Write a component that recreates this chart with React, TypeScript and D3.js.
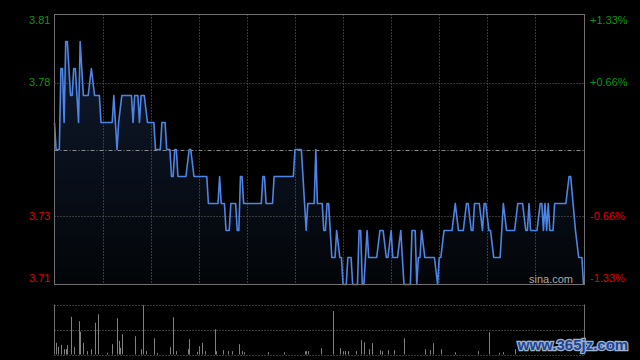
import * as d3 from "d3";

// previous close and the percent levels used for the grid
const prevClose = 3.76;
const pctLevels = [1.33, 0.66, 0, -0.66, -1.33];
const leftLabels = ["3.81", "3.78", "", "3.73", "3.71"];
const rightLabels = ["+1.33%", "+0.66%", "", "-0.66%", "-1.33%"];

// minute (from open) and price at each turn of the intraday line
const minutes = [
  0, 1, 3, 4, 5, 6, 7, 8, 10, 11, 12, 13, 15, 16, 18, 21, 23, 25, 28, 29,
  36, 37, 39, 40, 42, 48, 49, 50, 52, 53, 54, 56, 58, 62, 63, 66, 67, 69, 70, 72,
  73, 74, 75, 76, 77, 82, 84, 85, 87, 95, 96, 102, 103, 104, 106, 107, 109, 110, 113, 114,
  115, 116, 117, 118, 129, 130, 131, 132, 136, 137, 149, 150, 154, 157, 158, 162, 163, 164, 167, 168,
  169, 170, 171, 173, 175, 176, 178, 179, 180, 182, 183, 185, 186, 189, 190, 191, 192, 193, 195, 196,
  201, 203, 205, 207, 208, 210, 211, 214, 216, 218, 222, 223, 225, 226, 227, 228, 229, 231, 237, 239,
  240, 241, 243, 248, 250, 252, 255, 257, 258, 260, 261, 262, 265, 267, 268, 269, 271, 272, 274, 278,
  280, 282, 287, 289, 292, 294, 295, 296, 297, 301, 303, 304, 305, 306, 307, 308, 309, 311, 312, 319,
  321, 322, 325, 327, 329, 330,
];
const prices = [
  3.77, 3.76, 3.76, 3.79, 3.79, 3.77, 3.8, 3.8, 3.78, 3.78, 3.79, 3.79, 3.77, 3.8, 3.78, 3.78, 3.79, 3.78, 3.78, 3.77,
  3.77, 3.78, 3.76, 3.77, 3.78, 3.78, 3.77, 3.78, 3.78, 3.77, 3.78, 3.78, 3.77, 3.77, 3.76, 3.76, 3.77, 3.77, 3.76, 3.76,
  3.75, 3.75, 3.76, 3.76, 3.75, 3.75, 3.76, 3.76, 3.75, 3.75, 3.74, 3.74, 3.75, 3.74, 3.74, 3.73, 3.73, 3.74, 3.74, 3.73,
  3.73, 3.75, 3.75, 3.74, 3.74, 3.75, 3.75, 3.74, 3.74, 3.75, 3.75, 3.76, 3.76, 3.73, 3.74, 3.74, 3.76, 3.74, 3.74, 3.73,
  3.73, 3.74, 3.74, 3.72, 3.72, 3.73, 3.72, 3.72, 3.71, 3.71, 3.72, 3.72, 3.71, 3.71, 3.73, 3.73, 3.71, 3.71, 3.73, 3.72,
  3.72, 3.73, 3.73, 3.72, 3.72, 3.73, 3.72, 3.72, 3.73, 3.71, 3.71, 3.73, 3.73, 3.71, 3.72, 3.72, 3.73, 3.72, 3.72, 3.71,
  3.72, 3.72, 3.73, 3.73, 3.74, 3.73, 3.73, 3.74, 3.74, 3.73, 3.73, 3.74, 3.74, 3.73, 3.74, 3.74, 3.73, 3.73, 3.72, 3.72,
  3.74, 3.73, 3.73, 3.74, 3.74, 3.73, 3.73, 3.74, 3.73, 3.73, 3.74, 3.74, 3.73, 3.74, 3.73, 3.74, 3.73, 3.73, 3.74, 3.74,
  3.75, 3.75, 3.73, 3.72, 3.72, 3.71,
];

// volume bars (minute, thousand shares)
const volMinutes = [
  1, 2, 4, 6, 7, 8, 10, 12, 15, 16, 18, 20, 23, 25, 27, 33, 36, 39, 40, 41,
  42, 50, 54, 55, 57, 62, 64, 72, 74, 76, 83, 84, 89, 90, 92, 94, 100, 101, 105, 108,
  111, 115, 117, 118, 133, 143, 156, 157, 158, 166, 174, 178, 180, 181, 183, 188, 191, 193, 196, 198,
  203, 204, 208, 212, 218, 231, 234, 236, 241, 250, 264, 271, 277, 280, 287,
];
const volumes = [
  117, 77, 97, 53, 53, 93, 377, 73, 333, 227, 117, 33, 53, 317, 403, 17, 103, 363, 137, 67,
  203, 183, 53, 493, 33, 163, 17, 73, 373, 33, 53, 153, 27, 83, 117, 33, 253, 33, 43, 33,
  33, 103, 33, 23, 23, 23, 33, 33, 33, 63, 433, 63, 33, 33, 33, 33, 143, 123, 53, 113,
  43, 33, 43, 43, 163, 53, 43, 113, 53, 23, 33, 223, 17, 23, 53,
];

const W = 640;
const H = 360;
const left = 54.5;
const right = 584.5;
const top = 14.5;
const bottom = 284.5;
const vTop = 304.5;
const vBottom = 354.5;

const font = "'Liberation Sans', Arial, sans-serif";

export default function App() {
  const x = d3.scaleLinear().domain([0, 330]).range([left, right - 1]);
  const y = d3
    .scaleLinear()
    .domain([prevClose * (1 - 0.0133), prevClose * (1 + 0.0133)])
    .range([bottom, top]);
  const yv = d3.scaleLinear().domain([0, 500]).range([vBottom, vTop]);

  const pts = minutes.map((m, i) => [m, prices[i]] as [number, number]);
  const line = d3
    .line<[number, number]>()
    .x((d) => x(d[0]))
    .y((d) => y(d[1]));
  const area = d3
    .area<[number, number]>()
    .x((d) => x(d[0]))
    .y0(bottom)
    .y1((d) => y(d[1]));

  const vTicks = d3.range(30, 330, 30);

  return (
    <svg
      width={W}
      height={H}
      style={{ position: "fixed", left: 0, top: 0, background: "#000" }}
    >
      <defs>
        <linearGradient id="fillGrad" gradientUnits="userSpaceOnUse" x1="0" y1={top} x2="0" y2={bottom}>
          <stop offset="0%" stopColor="#111d33" />
          <stop offset="100%" stopColor="#030508" />
        </linearGradient>
      </defs>
      <rect x={0} y={0} width={W} height={H} fill="#000" />

      {/* area under the price line */}
      <path d={area(pts) ?? ""} fill="url(#fillGrad)" />

      {/* vertical grid */}
      {vTicks.map((t) => (
        <line
          key={t}
          x1={Math.round(x(t)) + 0.5}
          x2={Math.round(x(t)) + 0.5}
          y1={top}
          y2={bottom}
          stroke="#6a6a6a"
          strokeDasharray="1,2"
        />
      ))}

      {/* horizontal grid */}
      {pctLevels.map((p, i) => {
        if (i === 0 || i === pctLevels.length - 1) return null;
        const yy = Math.round(y(prevClose * (1 + p / 100))) + 0.5;
        return (
          <line
            key={p}
            x1={left}
            x2={right}
            y1={yy}
            y2={yy}
            stroke={p === 0 ? "#8a8a8a" : "#6a6a6a"}
            strokeDasharray={p === 0 ? "4,2,1,2" : "1,2"}
          />
        );
      })}

      {/* price line */}
      <path d={line(pts) ?? ""} fill="none" stroke="#4d85e4" strokeWidth={1.6} strokeLinejoin="round" />

      {/* frame */}
      <rect x={left} y={top} width={right - left} height={bottom - top} fill="none" stroke="#707070" />

      {/* left and right labels */}
      {pctLevels.map((p, i) => {
        if (!leftLabels[i]) return null;
        let yy = y(prevClose * (1 + p / 100));
        if (i === 0) yy += 6;
        if (i === pctLevels.length - 1) yy -= 6;
        const col = p > 0 ? "#0a9a0a" : "#e00000";
        return (
          <g key={p} fontFamily={font} fontSize={11} fill={col}>
            <text x={50.5} y={yy} dy="0.36em" textAnchor="end">
              {leftLabels[i]}
            </text>
            <text x={590} y={yy} dy="0.36em" textAnchor="start">
              {rightLabels[i]}
            </text>
          </g>
        );
      })}

      <text x={573} y={283} textAnchor="end" fontFamily={font} fontSize={11} fill="#a8a8a8">
        sina.com
      </text>

      {/* volume panel */}
      {[vTop, (vTop + vBottom) / 2, vBottom].map((yy) => (
        <line
          key={yy}
          x1={left}
          x2={right}
          y1={Math.round(yy) + 0.5}
          y2={Math.round(yy) + 0.5}
          stroke="#707070"
          strokeDasharray="1,2"
        />
      ))}
      <line x1={left} x2={left} y1={vTop} y2={vBottom} stroke="#707070" />
      <line x1={right} x2={right} y1={vTop} y2={vBottom} stroke="#707070" />
      {volMinutes.map((m, i) => {
        const xx = Math.round(x(m)) + 0.5;
        return (
          <line
            key={m}
            x1={xx}
            x2={xx}
            y1={vBottom}
            y2={yv(volumes[i])}
            stroke="#808080"
          />
        );
      })}

      {/* watermark */}
      <text
        x={573}
        y={350}
        textAnchor="middle"
        fontFamily={font}
        fontWeight="bold"
        fontSize={15}
        fill="#1d4596"
        stroke="#9fb2cc"
        strokeWidth={2.5}
        paintOrder="stroke"
      >
        www.365jz.com
      </text>
    </svg>
  );
}
